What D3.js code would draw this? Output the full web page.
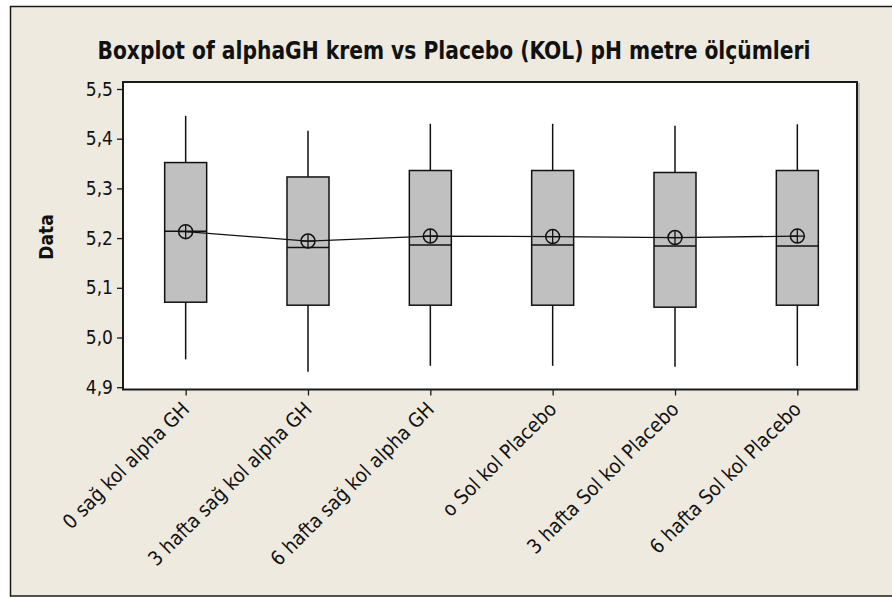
<!DOCTYPE html>
<html>
<head>
<meta charset="utf-8">
<script src="https://cdn.jsdelivr.net/npm/d3@7"></script>
<style>
  body { margin: 0; background: #ffffff; }
  svg { display: block; }
</style>
</head>
<body>
<svg id="chart" width="892" height="597"></svg>
<script>
// Groups (x categories)
const categories = [
  "0 sağ kol alpha GH",
  "3 hafta sağ kol alpha GH",
  "6 hafta sağ kol alpha GH",
  "o Sol kol Placebo",
  "3 hafta Sol kol Placebo",
  "6 hafta Sol kol Placebo"
];

// Five-number summaries and means of pH readings per group
const whiskerLow  = [4.956, 4.931, 4.943, 4.943, 4.941, 4.943];
const q1          = [5.071, 5.065, 5.065, 5.065, 5.061, 5.065];
const median      = [5.214, 5.181, 5.186, 5.186, 5.184, 5.184];
const q3          = [5.352, 5.323, 5.336, 5.336, 5.332, 5.336];
const whiskerHigh = [5.446, 5.416, 5.430, 5.430, 5.426, 5.429];
const means       = [5.213, 5.194, 5.204, 5.203, 5.201, 5.204];

// Axis ticks
const yTicks = [4.9, 5.0, 5.1, 5.2, 5.3, 5.4, 5.5];

const titleText = "Boxplot of alphaGH krem vs Placebo (KOL) pH metre ölçümleri";
const yAxisLabel = "Data";

const W = 892, H = 597;
const frame = { left: 123, right: 857, top: 82, bottom: 389.5 };
const fontFamily = "'DejaVu Sans Condensed', 'DejaVu Sans', sans-serif";

const svg = d3.select("#chart");

// Figure background with border
svg.append("rect")
  .attr("x", 10.5).attr("y", 6.5)
  .attr("width", W + 20).attr("height", 589.5)
  .attr("fill", "#EEEAE0")
  .attr("stroke", "#1a1a1a").attr("stroke-width", 1.5);

// Data region
svg.append("rect")
  .attr("x", frame.left).attr("y", frame.top)
  .attr("width", frame.right - frame.left).attr("height", frame.bottom - frame.top)
  .attr("fill", "#ffffff");

// Scales
const x = d3.scalePoint()
  .domain(categories)
  .range([frame.left + 1.5, frame.right + 1.5])
  .padding(0.5);

const y = d3.scaleLinear()
  .domain([4.9, 5.5])
  .range([387.2, 89]);

// Y axis
const yAxis = d3.axisLeft(y)
  .tickValues(yTicks)
  .tickSize(6)
  .tickPadding(4)
  .tickFormat(d => d3.format(".1f")(d).replace(".", ","));

const gy = svg.append("g")
  .attr("transform", `translate(${frame.left},0)`)
  .call(yAxis);
gy.select(".domain").remove();
gy.selectAll(".tick line").attr("stroke", "#1a1a1a").attr("stroke-width", 1.3);
gy.selectAll(".tick text")
  .attr("fill", "#111")
  .style("font-family", fontFamily)
  .style("font-size", "19px");

// X axis (ticks only, labels drawn rotated below)
const xAxis = d3.axisBottom(x).tickSize(6).tickFormat("");
const gx = svg.append("g")
  .attr("transform", `translate(0,${frame.bottom})`)
  .call(xAxis);
gx.select(".domain").remove();
gx.selectAll(".tick line").attr("stroke", "#1a1a1a").attr("stroke-width", 1.3);

// Rotated category labels
svg.append("g")
  .selectAll("text")
  .data(categories)
  .join("text")
  .attr("transform", d => `translate(${x(d) + 5},${frame.bottom + 21}) rotate(-45)`)
  .attr("text-anchor", "end")
  .attr("fill", "#111")
  .style("font-family", fontFamily)
  .style("font-size", "20px")
  .text(d => d);

// Boxplots
const boxW = 42;
const idx = d3.range(categories.length);
const g = svg.append("g");

// Whiskers
g.selectAll("line.whisker-low")
  .data(idx).join("line")
  .attr("class", "whisker-low")
  .attr("x1", i => x(categories[i])).attr("x2", i => x(categories[i]))
  .attr("y1", i => y(q1[i])).attr("y2", i => y(whiskerLow[i]))
  .attr("stroke", "#111").attr("stroke-width", 1.5);

g.selectAll("line.whisker-high")
  .data(idx).join("line")
  .attr("class", "whisker-high")
  .attr("x1", i => x(categories[i])).attr("x2", i => x(categories[i]))
  .attr("y1", i => y(q3[i])).attr("y2", i => y(whiskerHigh[i]))
  .attr("stroke", "#111").attr("stroke-width", 1.5);

// Boxes
g.selectAll("rect.box")
  .data(idx).join("rect")
  .attr("class", "box")
  .attr("x", i => x(categories[i]) - boxW / 2)
  .attr("width", boxW)
  .attr("y", i => y(q3[i]))
  .attr("height", i => y(q1[i]) - y(q3[i]))
  .attr("fill", "#C0C0C0")
  .attr("stroke", "#111").attr("stroke-width", 1.5);

// Medians
g.selectAll("line.median")
  .data(idx).join("line")
  .attr("class", "median")
  .attr("x1", i => x(categories[i]) - boxW / 2).attr("x2", i => x(categories[i]) + boxW / 2)
  .attr("y1", i => y(median[i])).attr("y2", i => y(median[i]))
  .attr("stroke", "#111").attr("stroke-width", 1.5);

// Mean connect line
const meanLine = d3.line()
  .x(i => x(categories[i]))
  .y(i => y(means[i]));
g.append("path")
  .attr("d", meanLine(idx))
  .attr("fill", "none")
  .attr("stroke", "#111").attr("stroke-width", 1.3);

// Mean symbols (circle with cross)
const r = 7;
const sym = g.selectAll("g.mean")
  .data(idx).join("g")
  .attr("class", "mean")
  .attr("transform", i => `translate(${x(categories[i])},${y(means[i])})`);
sym.append("circle").attr("r", r)
  .attr("fill", "none").attr("stroke", "#111").attr("stroke-width", 1.5);
sym.append("line").attr("x1", -r).attr("x2", r).attr("y1", 0).attr("y2", 0)
  .attr("stroke", "#111").attr("stroke-width", 1.3);
sym.append("line").attr("x1", 0).attr("x2", 0).attr("y1", -r).attr("y2", r)
  .attr("stroke", "#111").attr("stroke-width", 1.3);

// Data region frame
svg.append("line")
  .attr("x1", frame.right + 2).attr("x2", frame.right + 2)
  .attr("y1", frame.top + 1).attr("y2", frame.bottom + 1)
  .attr("stroke", "#a0a0a0").attr("stroke-width", 1.2);
svg.append("rect")
  .attr("x", frame.left).attr("y", frame.top)
  .attr("width", frame.right - frame.left).attr("height", frame.bottom - frame.top)
  .attr("fill", "none")
  .attr("stroke", "#1a1a1a").attr("stroke-width", 2);

// Title
const title = svg.append("text")
  .attr("x", 454).attr("y", 59)
  .attr("text-anchor", "middle")
  .attr("fill", "#111")
  .style("font-family", fontFamily)
  .style("font-weight", "bold")
  .style("font-size", "24px")
  .text(titleText);
const tw = title.node().getComputedTextLength();
if (Math.abs(tw - 713) > 4) {
  title.attr("textLength", 713).attr("lengthAdjust", "spacingAndGlyphs");
}

// Y axis title
svg.append("text")
  .attr("transform", "translate(53,237) rotate(-90)")
  .attr("text-anchor", "middle")
  .attr("fill", "#111")
  .style("font-family", fontFamily)
  .style("font-weight", "bold")
  .style("font-size", "19px")
  .text(yAxisLabel);
</script>
</body>
</html>
